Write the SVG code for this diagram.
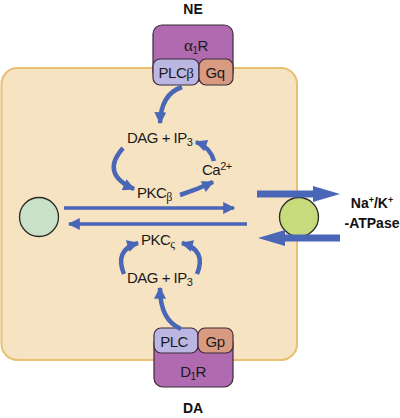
<svg xmlns="http://www.w3.org/2000/svg" width="400" height="418" viewBox="0 0 400 418">
<defs>
<style>
.t{font-family:"Liberation Sans",Arial,sans-serif;font-size:15px;letter-spacing:-0.5px;fill:#1a1a1a}
.b{font-family:"Liberation Sans",Arial,sans-serif;font-size:14px;font-weight:bold;fill:#111}
.g{font-family:"Liberation Serif","Times New Roman",serif}
.arc{fill:none;stroke:#4a66b6;stroke-width:4.5;marker-end:url(#ah)}
.ln{fill:none;stroke:#4a66b6;stroke-width:3.5;marker-end:url(#ah2)}
.big{fill:#4a66b6}
.rec{fill:#b06ab0;stroke:#3b2a3b;stroke-width:1.2}
.plc{fill:#bcb6e2;stroke:#3b2a3b;stroke-width:1.2}
.gq{fill:#d99a82;stroke:#3b2a3b;stroke-width:1.2}
</style>
<marker id="ah" viewBox="0 0 10 10" refX="9" refY="5" markerWidth="13" markerHeight="12" markerUnits="userSpaceOnUse" orient="auto"><path d="M0,0 L10,5 L0,10 z" fill="#4a66b6"/></marker>
<marker id="ah2" viewBox="0 0 10 10" refX="9" refY="5" markerWidth="15" markerHeight="12" markerUnits="userSpaceOnUse" orient="auto"><path d="M0,0 L10,5 L0,10 z" fill="#4a66b6"/></marker>
</defs>
<g id="cell">
<rect x="1.5" y="68" width="295.5" height="292" rx="16" fill="#f6e3c2" stroke="#e9bf72" stroke-width="2"/>
</g>
<g id="NE">
<text class="b" x="193" y="14" text-anchor="middle">NE</text>
</g>
<g id="alpha1R">
<rect class="rec" x="153" y="25" width="80" height="56" rx="9"/>
<text class="t" x="196" y="51" text-anchor="middle"><tspan class="g" font-size="17">α</tspan><tspan font-size="10" dy="3">1</tspan><tspan dy="-3">R</tspan></text>
</g>
<g id="PLCb">
<rect class="plc" x="153" y="59" width="46" height="26" rx="7"/>
<text class="t" x="176" y="77.5" text-anchor="middle">PLC<tspan class="g">β</tspan></text>
</g>
<g id="Gq">
<rect class="gq" x="199" y="59" width="34" height="26" rx="7"/>
<text class="t" x="215" y="77.5" text-anchor="middle">Gq</text>
</g>
<g id="DAG1"><text class="t" x="127" y="143">DAG + IP<tspan font-size="11" dy="3">3</tspan></text></g>
<g id="Ca"><text class="t" x="202" y="175">Ca<tspan font-size="11" dy="-5">2+</tspan></text></g>
<g id="PKCb"><text class="t" x="137" y="198">PKC<tspan class="g" font-size="12" dy="3">β</tspan></text></g>
<g id="PKCz"><text class="t" x="141" y="245">PKC<tspan class="g" font-size="12" dy="3">ς</tspan></text></g>
<g id="DAG2"><text class="t" x="127" y="283">DAG + IP<tspan font-size="11" dy="3">3</tspan></text></g>
<g id="leftcell"><circle cx="39" cy="217" r="19.5" fill="#c9e1c7" stroke="#2a2a2a" stroke-width="1.3"/></g>
<g id="pump"><circle cx="299" cy="217" r="19.5" fill="#c8db7c" stroke="#2a2a2a" stroke-width="1.3"/></g>
<g id="NaK">
<text class="b" x="372" y="208" text-anchor="middle">Na<tspan font-size="9" dy="-5">+</tspan><tspan dy="5">/K</tspan><tspan font-size="9" dy="-5">+</tspan></text>
<text class="b" x="372" y="228" text-anchor="middle">-ATPase</text>
</g>
<g id="DA"><text class="b" x="193" y="413" text-anchor="middle">DA</text></g>
<g id="D1R">
<rect class="rec" x="154" y="334" width="79" height="53" rx="9"/>
<text class="t" x="193" y="377" text-anchor="middle">D<tspan font-size="10" dy="3">1</tspan><tspan dy="-3">R</tspan></text>
</g>
<g id="PLC">
<rect class="plc" x="154" y="328" width="44" height="25" rx="7"/>
<text class="t" x="174" y="346.5" text-anchor="middle">PLC</text>
</g>
<g id="Gp">
<rect class="gq" x="198" y="328" width="35" height="25" rx="7"/>
<text class="t" x="215" y="346.5" text-anchor="middle">Gp</text>
</g>
<g id="connectors">
<path class="arc" d="M182,87 Q161,94 160,123"/>
<path class="arc" d="M123,148 Q100,174 134,189"/>
<path class="arc" d="M180,195 Q196,190 213,182"/>
<path class="arc" d="M214,161 Q210,147 196,142"/>
<path class="ln" d="M64,208 L234,208"/>
<path class="ln" d="M247,224 L69,224"/>
<path class="arc" d="M124,274 Q114,250 138,243"/>
<path class="arc" d="M197,274 Q207,250 182,243"/>
<path class="arc" d="M181,329 Q160,320 160,288"/>
<polygon class="big" points="257,190.5 313,190.5 313,186 340,194 313,202 313,197.5 257,197.5"/>
<polygon class="big" points="340,234.5 285,234.5 285,230 258,238 285,246 285,241.5 340,241.5"/>
</g>
</svg>
